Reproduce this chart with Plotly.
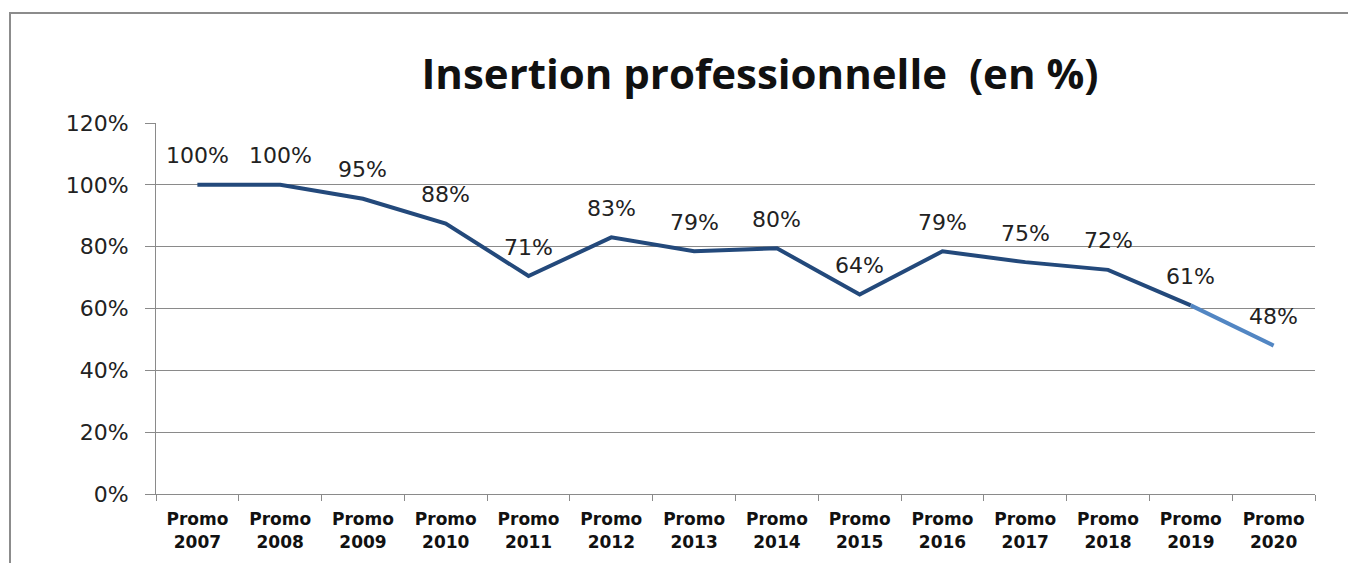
import plotly.graph_objects as go

categories = ["Promo<br>2007", "Promo<br>2008", "Promo<br>2009", "Promo<br>2010", "Promo<br>2011",
              "Promo<br>2012", "Promo<br>2013", "Promo<br>2014", "Promo<br>2015", "Promo<br>2016",
              "Promo<br>2017", "Promo<br>2018", "Promo<br>2019", "Promo<br>2020"]
values = [1.00, 1.00, 0.955, 0.875, 0.705, 0.83, 0.785, 0.795, 0.645, 0.785, 0.75, 0.725, 0.61, 0.48]
labels = ["100%", "100%", "95%", "88%", "71%", "83%", "79%", "80%", "64%", "79%", "75%", "72%", "61%", "48%"]
y_ticks = [0, 0.2, 0.4, 0.6, 0.8, 1.0, 1.2]
y_ticktext = ["0%", "20%", "40%", "60%", "80%", "100%", "120%"]

dark = "#23497B"
light = "#5286C3"

fig = go.Figure()
fig.add_trace(go.Scatter(x=categories[:-1], y=values[:-1], mode="lines",
                         line=dict(color=dark, width=4), hoverinfo="skip"))
fig.add_trace(go.Scatter(x=categories[-2:], y=values[-2:], mode="lines",
                         line=dict(color=light, width=4), hoverinfo="skip"))

for c, v, t in zip(categories, values, labels):
    fig.add_annotation(x=c, y=v, text=t, showarrow=False, yshift=29,
                       font=dict(family="DejaVu Sans", size=22, color="#222222"))

OFF = 8  # page body margin
W, H = 1356 - OFF, 563 - OFF
L, R, T, B = 156 - OFF, 1315 - OFF, 123 - OFF, 494 - OFF
fig.update_layout(
    width=W, height=H,
    margin=dict(l=L, r=W - R, t=T, b=H - B),
    paper_bgcolor="white", plot_bgcolor="white",
    showlegend=False,
    title=dict(text="<b>Insertion professionnelle  (en %)</b>", x=(760 - OFF) / W, xanchor="center",
               y=1 - (74 - OFF) / H, yanchor="middle",
               font=dict(family="Open Sans", size=42, color="#111111")),
    xaxis=dict(type="category", categoryorder="array", categoryarray=categories,
               showgrid=False, showline=True, linecolor="#8a8a8a", linewidth=1,
               ticks="outside", tickson="boundaries", ticklen=6, tickcolor="#8a8a8a",
               ticklabelstandoff=10,
               tickfont=dict(family="DejaVu Sans", size=17, color="#111111", weight="bold"),
               range=[-0.5, 13.5], fixedrange=True),
    yaxis=dict(range=[0, 1.2], tickvals=y_ticks, ticktext=y_ticktext,
               showgrid=True, gridcolor="#8a8a8a", gridwidth=1,
               showline=True, linecolor="#8a8a8a", linewidth=1,
               ticks="outside", ticklen=10, tickcolor="#8a8a8a",
               ticklabelstandoff=12,
               tickfont=dict(family="DejaVu Sans", size=22, color="#222222"),
               zeroline=False, fixedrange=True),
)

# outer chart frame
pw, ph = R - L, B - T
fig.add_shape(type="rect", xref="paper", yref="paper",
              x0=(10 - OFF - L) / pw, x1=(1400 - L) / pw,
              y0=(B - 620) / ph, y1=(B - (13 - OFF)) / ph,
              line=dict(color="#8c8c8c", width=2), fillcolor="rgba(0,0,0,0)", layer="below")

fig.write_html("out.html")
